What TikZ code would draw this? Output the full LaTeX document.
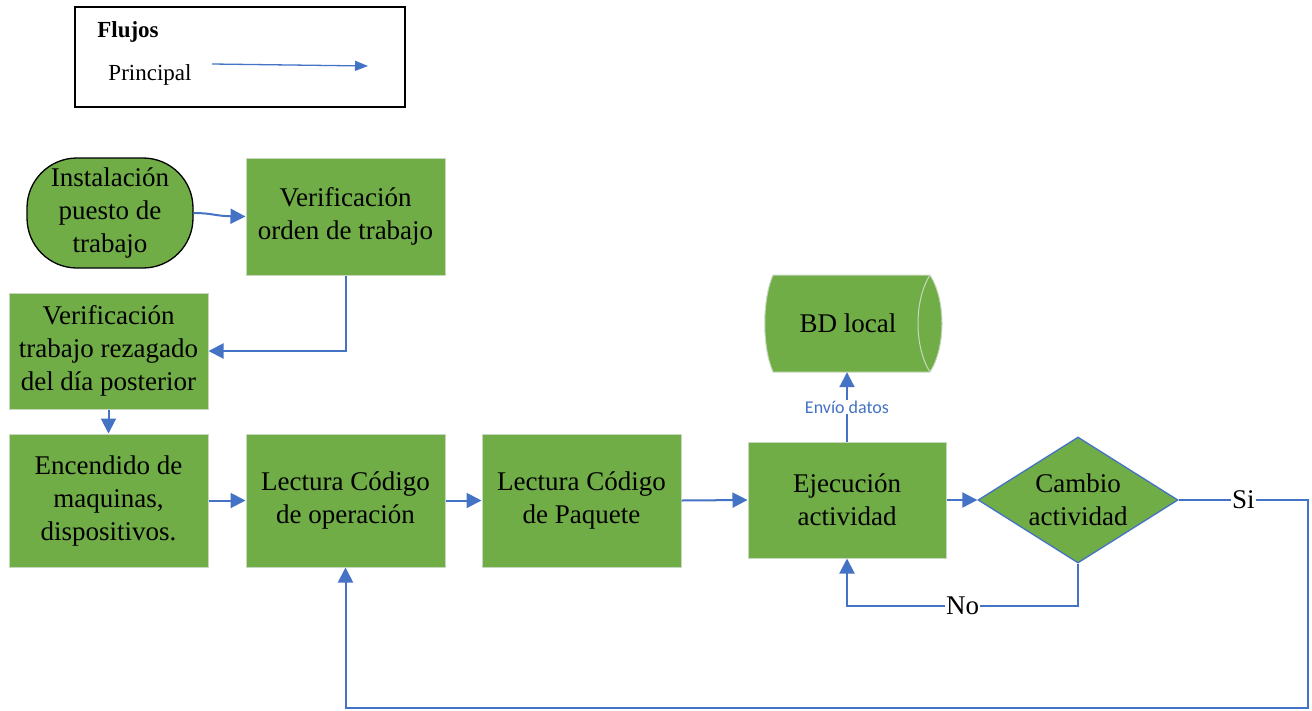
\documentclass[tikz,border=0pt]{standalone}
\usepackage{fontspec}
\setmainfont{Liberation Serif}
\newfontfamily\serfont{Liberation Serif}
\newfontfamily\lblfont{Carlito}
\usetikzlibrary{shapes.geometric,arrows.meta}
\definecolor{gfill}{HTML}{70AD47}
\definecolor{gline}{HTML}{C8D8C0}
\definecolor{bline}{HTML}{4472C4}
\begin{document}
\begin{tikzpicture}[x=1pt,y=-1pt,
  box/.style={draw=gline, line width=1pt, fill=gfill, align=center, inner sep=0pt,
    font=\serfont\fontsize{27}{33}\selectfont},
  flow/.style={draw=bline, line width=2pt, -{Triangle[length=15pt,width=15pt]}},
  lbl/.style={fill=white, inner sep=1pt, font=\serfont\fontsize{27}{27}\selectfont},
  leg/.style={font=\serfont\fontsize{23}{23}\selectfont, inner sep=0pt}
]
\useasboundingbox (0,0) rectangle (1312,710);

% legend
\node[draw=black, line width=1.5pt, minimum width=330, minimum height=100, inner sep=0pt] (legend) at (240,57) {};
\node[leg, font=\serfont\fontsize{23}{23}\selectfont\bfseries] (flujos) at (128,32) {Flujos};
\node[leg] (principal) at (150,75) {Principal};
\coordinate (la) at (212,64);
\coordinate (lb) at (368,66);
\draw[draw=bline, line width=1.3pt, -{Triangle[length=13pt,width=10pt]}] (la) -- (lb);

% nodes
\node[box, draw=black, line width=1.3pt, rounded corners=50pt, minimum width=166, minimum height=110] (ins) at (110,213) {Instalación\\puesto de\\trabajo};
\node[box, minimum width=199, minimum height=117] (vo) at (345.5,216.5) {Verificación\\orden de trabajo};
\node[box, minimum width=199, minimum height=116] (rez) at (108.5,351) {Verificación\\trabajo rezagado\\del día posterior};
\node[box, minimum width=199, minimum height=133] (enc) at (108.5,500.5) {Encendido de\\maquinas,\\dispositivos.};
\node[box, minimum width=199, minimum height=133] (op) at (345.5,500.5) {Lectura Código\\de operación};
\node[box, minimum width=199, minimum height=133] (paq) at (581.5,500.5) {Lectura Código\\de Paquete};
\node[box, minimum width=198, minimum height=116] (ej) at (847,500) {Ejecución\\actividad};
\node[diamond, draw=bline, line width=1.3pt, fill=gfill, minimum width=200, minimum height=126, inner sep=0pt] (dia) at (1078,500) {};
\node[align=center, inner sep=0pt, font=\serfont\fontsize{27}{33}\selectfont] (diat) at (1078,500) {Cambio\\actividad};

% BD local cylinder
\fill[gfill] (773,275) -- (930,275) .. controls (946,300) and (946,347) .. (930,372)
  -- (773,372) .. controls (762,347) and (762,300) .. (773,275) -- cycle;
\draw[gline, line width=1pt] (773,275) -- (930,275) .. controls (946,300) and (946,347) .. (930,372)
  -- (773,372) .. controls (762,347) and (762,300) .. (773,275);
\draw[gline, line width=1pt] (930,275) .. controls (914,300) and (914,347) .. (930,372);
\node[inner sep=0pt, minimum width=150, minimum height=97, font=\serfont\fontsize{27}{33}\selectfont] (bd) at (848,323.5) {BD local};

% connectors
\draw[flow] (ins.east) .. controls (212,213) and (215,216) .. (vo.west);
\draw[flow] (vo.south) |- (rez.east);
\draw[flow] (rez.south) -- (enc.north);
\draw[flow] (enc.east) -- (op.west);
\draw[flow] (op.east) -- (paq.west);
\draw[flow] (paq.east) -- (ej.west);
\draw[flow] (ej.east) -- (dia.west);
\draw[flow] (ej.north) -- node[fill=white, inner sep=1pt, text=bline, font=\lblfont\fontsize{18}{18}\selectfont] {Envío datos} (ej.north |- bd.south);
\coordinate (nocorner) at (1078,606);
\draw[flow] (dia.south) -- (nocorner) -| node[lbl, pos=0.25] {No} (ej.south);
\coordinate (si1) at (1308,500);
\coordinate (si2) at (1308,708);
\draw[flow] (dia.east) -- node[lbl] {Si} (si1) -- (si2) -| (op.south);
\end{tikzpicture}
\end{document}
